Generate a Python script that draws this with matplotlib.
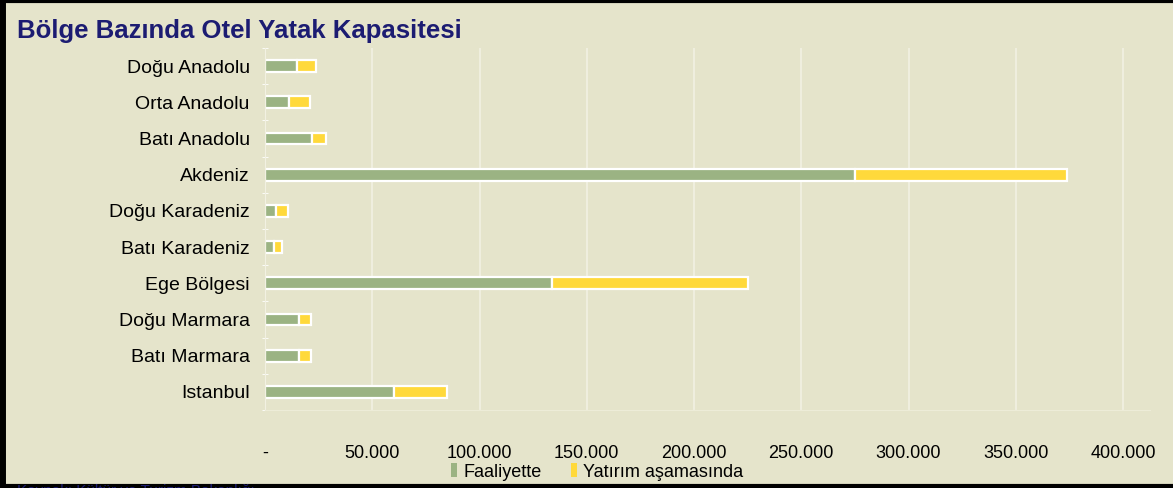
import matplotlib.pyplot as plt
import numpy as np

plt.rcParams["font.family"] = ["Liberation Sans", "DejaVu Sans"]

# bölgeler (üstten alta)
regions = ["Doğu Anadolu", "Orta Anadolu", "Batı Anadolu", "Akdeniz", "Doğu Karadeniz",
           "Batı Karadeniz", "Ege Bölgesi", "Doğu Marmara", "Batı Marmara", "Istanbul"]
faaliyette = [15000, 11000, 22000, 275000, 5000, 4000, 134000, 16000, 16000, 60000]
yatirim = [9000, 10000, 6500, 99000, 5500, 4000, 91000, 5500, 5500, 25000]
xticks = [0, 50000, 100000, 150000, 200000, 250000, 300000, 350000, 400000]

bg = "#E5E4CB"
green = "#9BB383"
yellow = "#FFD93B"

fig = plt.figure(figsize=(11.73, 4.88), dpi=100, facecolor=bg)
ax = fig.add_axes([265 / 1173, 1 - 410 / 488, (1150 - 265) / 1173, 362 / 488])
ax.set_facecolor(bg)

y = np.arange(len(regions))
ax.barh(y, faaliyette, height=0.33, color=green, edgecolor="white", linewidth=1.6, label="Faaliyette")
ax.barh(y, yatirim, left=faaliyette, height=0.33, color=yellow, edgecolor="white", linewidth=1.6,
        label="Yatırım aşamasında")

ax.set_ylim(len(regions) - 0.5, -0.5)
ax.set_xlim(0, (1150 - 265) / 2.145 * 1000)
ax.set_yticks(y)
ax.set_yticklabels(regions, fontsize=14)
ax.set_yticks(np.arange(-0.5, len(regions), 1), minor=True)
ax.tick_params(axis="y", which="major", length=0, pad=11)
ax.tick_params(axis="y", which="minor", length=5, color="white", direction="inout")

ax.set_xticks(xticks)
ax.set_xticklabels(["-" if v == 0 else f"{v:,}".replace(",", ".") for v in xticks], fontsize=13)
ax.tick_params(axis="x", length=0, pad=25)
ax.grid(axis="x", color="#F2F1E2", linewidth=1.2)
ax.set_axisbelow(True)

for s in ["top", "right"]:
    ax.spines[s].set_visible(False)
ax.spines["left"].set_color("#F2F1E2")
ax.spines["bottom"].set_color("#EDECD8")

fig.text(17 / 1173, 1 - 31 / 488, "Bölge Bazında Otel Yatak Kapasitesi", fontsize=18.5, fontweight="bold",
         color="#1C1C72", va="center", ha="left")

# legend: küçük dolu kareler
leg = fig.legend(loc="center", bbox_to_anchor=(597 / 1173, 1 - 472 / 488), ncol=2, frameon=False,
                 fontsize=13, handlelength=0.35, handleheight=0.8, handletextpad=0.35, columnspacing=1.6,
                 borderaxespad=0)
for h in leg.legend_handles:
    h.set_linewidth(0)

# kaynak (alt kenarda kesik)
fig.text(17 / 1173, -0.021, "Kaynak: Kültür ve Turizm Bakanlığı", fontsize=11, color="#1C1C72",
         va="bottom", ha="left")

# siyah çerçeve
fig.add_artist(plt.Line2D([0.002, 0.002], [0, 1], color="black", linewidth=5, transform=fig.transFigure))
fig.add_artist(plt.Line2D([0, 1], [0.997, 0.997], color="black", linewidth=3, transform=fig.transFigure))
fig.add_artist(plt.Line2D([0, 1], [0.004, 0.004], color="black", linewidth=3, transform=fig.transFigure))

plt.savefig("out.png", facecolor=bg)
